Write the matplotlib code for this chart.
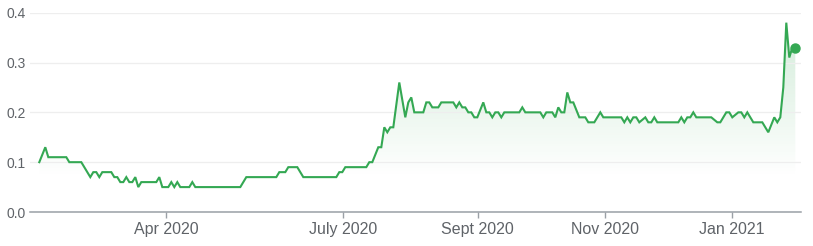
import matplotlib
matplotlib.use('Agg')
import matplotlib.pyplot as plt
import numpy as np
from matplotlib.colors import to_rgb

# trading-session index and closing price (vertices)
session = [0, 2, 3, 9, 10, 14, 17, 18, 19, 20, 21, 24, 25, 26, 27, 28, 29, 30, 31, 32,
           33, 34, 39, 40, 41, 43, 44, 45, 46, 47, 50, 51, 52, 67, 69, 79, 80, 82, 83, 86,
           88, 99, 100, 101, 102, 109, 110, 111, 113, 114, 115, 116, 117, 118, 120, 122, 123, 124, 125, 128,
           129, 130, 131, 133, 134, 138, 139, 140, 141, 142, 143, 144, 145, 146, 148, 149, 150, 151, 152, 153,
           154, 155, 160, 161, 162, 167, 168, 169, 171, 172, 173, 174, 175, 176, 177, 178, 180, 182, 183, 185,
           187, 188, 194, 195, 196, 197, 198, 199, 200, 202, 203, 204, 205, 206, 213, 214, 215, 216, 217, 218,
           219, 224, 226, 227, 229, 230, 231, 233, 234, 235, 236, 238, 241, 243, 245, 246, 247, 248, 249, 250,
           251, 252]
price = [0.10, 0.13, 0.11, 0.11, 0.10, 0.10, 0.07, 0.08, 0.08, 0.07, 0.08, 0.08, 0.07, 0.07, 0.06, 0.06, 0.07, 0.06, 0.06, 0.07,
         0.05, 0.06, 0.06, 0.07, 0.05, 0.05, 0.06, 0.05, 0.06, 0.05, 0.05, 0.06, 0.05, 0.05, 0.07, 0.07, 0.08, 0.08, 0.09, 0.09,
         0.07, 0.07, 0.08, 0.08, 0.09, 0.09, 0.10, 0.10, 0.13, 0.13, 0.17, 0.16, 0.17, 0.17, 0.26, 0.19, 0.22, 0.23, 0.20, 0.20,
         0.22, 0.22, 0.21, 0.21, 0.22, 0.22, 0.21, 0.22, 0.21, 0.21, 0.20, 0.20, 0.19, 0.19, 0.22, 0.20, 0.20, 0.19, 0.20, 0.20,
         0.19, 0.20, 0.20, 0.21, 0.20, 0.20, 0.19, 0.20, 0.20, 0.19, 0.21, 0.20, 0.20, 0.24, 0.22, 0.22, 0.19, 0.19, 0.18, 0.18,
         0.20, 0.19, 0.19, 0.18, 0.19, 0.18, 0.19, 0.19, 0.18, 0.19, 0.18, 0.18, 0.19, 0.18, 0.18, 0.19, 0.18, 0.19, 0.19, 0.20,
         0.19, 0.19, 0.18, 0.18, 0.20, 0.20, 0.19, 0.20, 0.20, 0.19, 0.20, 0.18, 0.18, 0.16, 0.19, 0.18, 0.19, 0.25, 0.38, 0.31,
         0.33, 0.33]

x_tick_pos = [42.33, 101.33, 146.13, 188.57, 230.9]
x_tick_labels = ['Apr 2020', 'July 2020', 'Sept 2020', 'Nov 2020', 'Jan 2021']
y_ticks = [0.0, 0.1, 0.2, 0.3, 0.4]
y_tick_labels = ['0.0', '0.1', '0.2', '0.3', '0.4']

GREEN = '#34a853'
TEXT = '#5f6368'
FONT = 'Liberation Sans'

fig = plt.figure(figsize=(8.13, 2.46), dpi=100)
ax = fig.add_axes([30 / 813, 34 / 246, (801 - 30) / 813, (212 - 12.7) / 246])

xmin, xmax = -3.1, 253.9

# gradient fill under the line
rgb = to_rgb(GREEN)
grad = np.zeros((256, 1, 4))
grad[..., 0], grad[..., 1], grad[..., 2] = rgb
grad[:, 0, 3] = np.linspace(0.22, 0.0, 256)
im = ax.imshow(grad, extent=[xmin, xmax, 0.07, max(price)], origin='upper',
               aspect='auto', zorder=1, interpolation='bilinear')
poly = ax.fill_between(session, price, 0, color='none', lw=0)
im.set_clip_path(poly.get_paths()[0], transform=ax.transData)

ax.plot(session, price, color=GREEN, lw=1.5, zorder=3, solid_joinstyle='miter',
        clip_on=False)
ax.plot(session[-1:], price[-1:], 'o', color=GREEN, ms=6.5, zorder=4, clip_on=False)

ax.set_xlim(xmin, xmax)
ax.set_ylim(0, 0.4)

for s in ['top', 'right', 'left']:
    ax.spines[s].set_visible(False)
ax.spines['bottom'].set_color('#9aa0a6')
ax.spines['bottom'].set_linewidth(1.1)

ax.set_yticks(y_ticks)
ax.set_yticklabels(y_tick_labels, fontsize=10, color=TEXT, family=FONT)
ax.tick_params(axis='y', length=0, pad=3)
ax.grid(axis='y', color='#eeeeee', lw=0.9, zorder=0)

ax.set_xticks(x_tick_pos)
ax.set_xticklabels(x_tick_labels, fontsize=11.5, color=TEXT, family=FONT)
ax.tick_params(axis='x', length=4, width=1, color='#9aa0a6', pad=3)

fig.savefig('out.png', dpi=100)
